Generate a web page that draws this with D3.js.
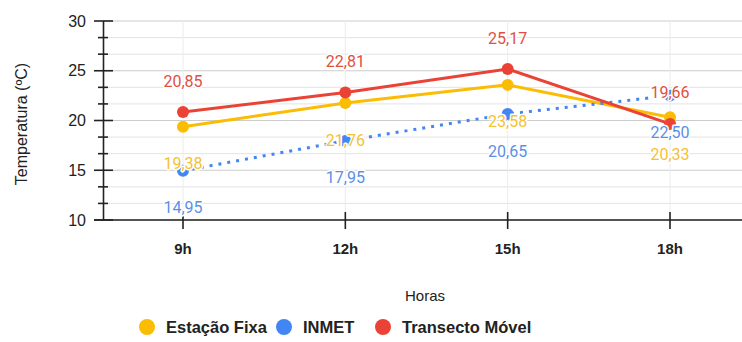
<!DOCTYPE html>
<html><head><meta charset="utf-8">
<script src="https://cdn.jsdelivr.net/npm/d3@7"></script>
<style>body{margin:0;background:#fff}svg{display:block;font-family:"Liberation Sans",Arial,sans-serif}</style>
</head><body><svg id="c" width="742" height="342"></svg>
<script>
const categories = ["9h","12h","15h","18h"];
const estacaoFixa = [19.38, 21.76, 23.58, 20.33];
const inmet = [14.95, 17.95, 20.65, 22.50];
const transecto = [20.85, 22.81, 25.17, 19.66];
const seriesNames = ["Estação Fixa","INMET","Transecto Móvel"];
const yTicks = [10,15,20,25,30];

const colors = {"Estação Fixa":"#fbbc04","INMET":"#4285f4","Transecto Móvel":"#ea4335"};
const labelColors = {"Estação Fixa":"#f4c132","INMET":"#5b8fe6","Transecto Móvel":"#e0503f"};
const series = [
  {name:"Estação Fixa", values:estacaoFixa, dash:null, pos:"below"},
  {name:"INMET", values:inmet, dash:"3,6", pos:"below"},
  {name:"Transecto Móvel", values:transecto, dash:null, pos:"above"}
];

const svg = d3.select("#c");
const x = d3.scalePoint().domain(categories).range([183,670]);
const y = d3.scaleLinear().domain([10,30]).range([220,21]);

// gridlines
const minor = d3.range(0,13).map(i=>10+i*5/3);
svg.append("g").selectAll("line").data(minor).join("line")
  .attr("x1",103).attr("x2",742).attr("y1",d=>y(d)).attr("y2",d=>y(d))
  .attr("stroke",(d,i)=> i%3===0 ? "#cccccc" : "#e3e3e3").attr("stroke-width",1);
svg.append("g").selectAll("line").data(categories).join("line")
  .attr("x1",d=>x(d)).attr("x2",d=>x(d)).attr("y1",21).attr("y2",220)
  .attr("stroke","#ececec");

// y axis
const ya = svg.append("g");
ya.append("line").attr("x1",103.5).attr("x2",103.5).attr("y1",21).attr("y2",220).attr("stroke","#222").attr("stroke-width",1.6);
ya.selectAll("line.mi").data(minor).join("line").attr("class","mi")
  .attr("x1",(d,i)=> i%3===0 ? 94 : 98).attr("x2",(d,i)=> i%3===0 ? 113 : 108)
  .attr("y1",d=>y(d)).attr("y2",d=>y(d)).attr("stroke","#222").attr("stroke-width",1.6);
ya.selectAll("text").data(yTicks).join("text")
  .attr("x",86).attr("y",d=>y(d)).attr("dy","0.35em").attr("text-anchor","end")
  .attr("font-size",16).attr("fill","#222").text(d=>d);

// x axis
const xa = svg.append("g");
xa.append("line").attr("x1",94).attr("x2",742).attr("y1",220).attr("y2",220).attr("stroke","#222").attr("stroke-width",1.6);
xa.selectAll("line.t").data(categories).join("line").attr("class","t")
  .attr("x1",d=>x(d)).attr("x2",d=>x(d)).attr("y1",212).attr("y2",229).attr("stroke","#222").attr("stroke-width",1.6);
xa.selectAll("text").data(categories).join("text")
  .attr("x",d=>x(d)).attr("y",254).attr("text-anchor","middle")
  .attr("font-size",15).attr("font-weight","bold").attr("fill","#222").text(d=>d);

svg.append("text").attr("x",425).attr("y",301).attr("text-anchor","middle").attr("font-size",15).attr("fill","#222").text("Horas");
svg.append("text").attr("transform","translate(27,124) rotate(-90)").attr("text-anchor","middle").attr("font-size",16).attr("fill","#222").text("Temperatura (ºC)");

// lines
const line = d3.line().x((d,i)=>x(categories[i])).y(d=>y(d));
series.forEach(s=>{
  svg.append("path").attr("d",line(s.values)).attr("fill","none")
    .attr("stroke",colors[s.name]).attr("stroke-width",3)
    .attr("stroke-dasharray",s.dash);
});
series.forEach(s=>{
  svg.append("g").selectAll("circle").data(s.values).join("circle")
    .attr("cx",(d,i)=>x(categories[i])).attr("cy",d=>y(d)).attr("r",6)
    .attr("fill",colors[s.name]);
});
// annotations
series.forEach(s=>{
  svg.append("g").selectAll("text").data(s.values).join("text")
    .attr("x",(d,i)=>x(categories[i])).attr("y",d=>y(d) + (s.pos==="above" ? -31 : 37))
    .attr("dy","0.35em").attr("text-anchor","middle").attr("font-size",16)
    .attr("font-family","Roboto,sans-serif")
    .attr("fill",labelColors[s.name]).attr("stroke","#fff").attr("stroke-width",3)
    .attr("paint-order","stroke").attr("stroke-linejoin","round")
    .text(d=>d3.format(".2f")(d).replace(".",","));
});

// legend
const legX = [147,284,383];
const lg = svg.append("g");
seriesNames.forEach((n,i)=>{
  lg.append("circle").attr("cx",legX[i]).attr("cy",327).attr("r",8).attr("fill",colors[n]);
  lg.append("text").attr("x",legX[i]+19).attr("y",327).attr("dy","0.36em")
    .attr("font-size",16.5).attr("font-weight","bold").attr("fill","#222").text(n);
});
</script></body></html>
